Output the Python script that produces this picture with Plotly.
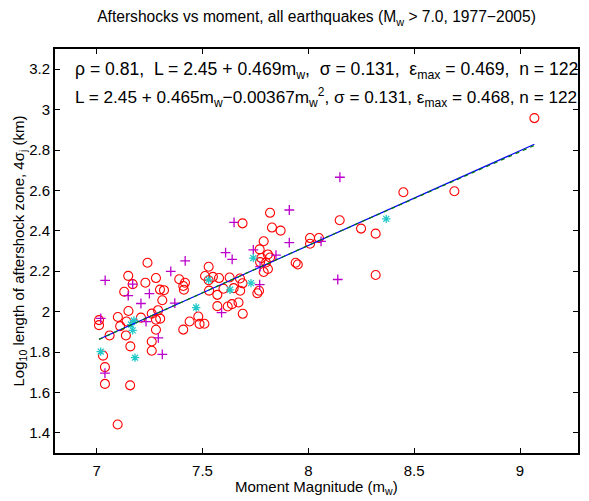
import plotly.graph_objects as go

# Red open circles
red_m = [9.068, 8.449, 8.690, 8.249, 8.318, 8.318, 8.148, 7.689, 7.819, 7.828,
         7.869, 7.789, 7.770, 7.809, 7.819, 7.778, 7.772, 7.800, 7.809, 7.789,
         8.008, 8.050, 8.008, 7.940, 7.950, 7.767, 7.759, 7.677, 7.689, 7.678,
         7.647, 7.670, 7.690, 7.639, 7.619, 7.570, 7.628, 7.578, 7.549, 7.512,
         7.529, 7.531, 7.599, 7.570, 7.390, 7.417, 7.409, 7.412, 7.280, 7.240,
         7.149, 7.230, 7.170, 7.130, 7.299, 7.318, 7.310, 7.150, 7.100, 7.011,
         7.011, 7.111, 7.141, 7.209, 7.260, 7.290, 7.280, 7.300, 7.061, 7.138,
         7.280, 7.159, 7.260, 7.260, 7.030, 7.039, 7.039, 7.158, 7.099, 7.409,
         7.439, 7.480, 7.486, 7.509, 7.529]
red_L = [2.958, 2.591, 2.596, 2.411, 2.386, 2.181, 2.452, 2.437, 2.489, 2.416,
         2.401, 2.348, 2.308, 2.283, 2.268, 2.265, 2.245, 2.243, 2.211, 2.196,
         2.364, 2.364, 2.336, 2.242, 2.233, 2.103, 2.091, 2.164, 2.140, 2.103,
         2.116, 2.045, 1.989, 2.037, 2.025, 2.027, 2.169, 2.166, 2.172, 2.176,
         2.222, 2.104, 2.113, 2.083, 2.160, 2.143, 2.127, 2.108, 2.166, 2.242,
         2.177, 2.143, 2.136, 2.098, 2.109, 2.106, 2.056, 2.003, 1.973, 1.958,
         1.933, 1.928, 1.951, 1.970, 1.990, 2.007, 1.960, 1.965, 1.882, 1.882,
         1.910, 1.828, 1.852, 1.806, 1.782, 1.725, 1.642, 1.635, 1.441, 1.911,
         1.951, 1.976, 1.939, 1.940, 2.155]

# Magenta plus markers
plus_m = [8.149, 7.910, 7.910, 8.060, 7.740, 7.847, 7.772, 8.139, 7.770, 7.649,
          7.609, 7.640, 7.418, 7.350, 7.040, 7.170, 7.149, 7.249, 7.209, 7.369,
          7.019, 7.233, 7.291, 7.310, 7.039, 7.590]
plus_L = [2.665, 2.503, 2.341, 2.348, 2.306, 2.280, 2.223, 2.159, 2.134, 2.442,
          2.292, 2.259, 2.251, 2.199, 2.155, 2.136, 2.079, 2.089, 2.040, 2.042,
          1.966, 1.950, 1.870, 1.788, 1.695, 1.995]

# Cyan asterisks
star_m = [8.368, 7.740, 7.729, 7.630, 7.529, 7.470, 7.176, 7.162, 7.170, 7.019, 7.181]
star_L = [2.459, 2.265, 2.141, 2.108, 2.157, 2.020, 1.956, 1.936, 1.907, 1.802, 1.772]

# Fit parameters (centered on m0)
fit_m0 = 8.2616
lin_a, lin_b = 2.45, 0.469
quad_a, quad_b, quad_c = 2.45, 0.465, -0.00367

x_ticks = [7, 7.5, 8, 8.5, 9]
x_tick_labels = ["7", "7.5", "8", "8.5", "9"]
y_ticks = [1.4, 1.6, 1.8, 2.0, 2.2, 2.4, 2.6, 2.8, 3.0, 3.2]
y_tick_labels = ["1.4", "1.6", "1.8", "2", "2.2", "2.4", "2.6", "2.8", "3", "3.2"]

all_m = red_m + plus_m + star_m
m_lo, m_hi = min(all_m), max(all_m)
n_pts = 60
fit_x = [m_lo + (m_hi - m_lo) * i / (n_pts - 1) for i in range(n_pts)]
lin_y = [lin_a + lin_b * (x - fit_m0) for x in fit_x]
quad_y = [quad_a + quad_b * (x - fit_m0) + quad_c * (x - fit_m0) ** 2 for x in fit_x]

FONT = "Liberation Sans, Arial, Helvetica, sans-serif"

fig = go.Figure()
fig.add_trace(go.Scatter(x=red_m, y=red_L, mode="markers",
                         marker=dict(symbol="circle-open", size=9, color="#ff0000",
                                     line=dict(width=1.1, color="#ff0000"))))
fig.add_trace(go.Scatter(x=plus_m, y=plus_L, mode="markers",
                         marker=dict(symbol="cross-thin-open", size=7, color="#bb00cc",
                                     line=dict(width=1.3, color="#bb00cc"))))
fig.add_trace(go.Scatter(x=star_m, y=star_L, mode="markers",
                         marker=dict(symbol="asterisk-open", size=7, color="#22c8c8",
                                     line=dict(width=1.3, color="#22c8c8"))))
fig.add_trace(go.Scatter(x=fit_x, y=lin_y, mode="lines",
                         line=dict(color="#0000ff", width=1.2)))
fig.add_trace(go.Scatter(x=fit_x, y=quad_y, mode="lines",
                         line=dict(color="#007a00", width=1.2, dash="4px,4px")))

axis_common = dict(showgrid=False, zeroline=False, showline=True, linecolor="black",
                   linewidth=2, mirror="allticks", ticks="inside", ticklen=5,
                   tickwidth=1, tickcolor="black", automargin=False,
                   tickfont=dict(family=FONT, size=15, color="black"))

fig.update_xaxes(range=[6.803, 9.274], tickvals=x_ticks, ticktext=x_tick_labels,
                 ticklabelstandoff=3, **axis_common)
fig.update_yaxes(range=[1.3, 3.3], tickvals=y_ticks, ticktext=y_tick_labels,
                 title=dict(text="Log<sub>10</sub> length of aftershock zone, 4σ<sub>j</sub> (km)",
                            standoff=1, font=dict(family=FONT, size=15, color="black")),
                 **axis_common)

nb = "\u00a0"
txt1 = f"ρ = 0.81,{nb} L = 2.45 + 0.469m<sub>w</sub>,{nb} σ = 0.131,{nb} ε<sub>max</sub> = 0.469,{nb} n = 122"
txt2 = "L = 2.45 + 0.465m<sub>w</sub>−0.00367m<sub>w</sub><sup>2</sup>, σ = 0.131, ε<sub>max</sub> = 0.468, n = 122"

fig.add_annotation(text=txt1, xref="paper", yref="paper", x=0.034, y=0.948,
                   xanchor="left", yanchor="middle", showarrow=False,
                   font=dict(family=FONT, size=17.6, color="black"))
fig.add_annotation(text=txt2, xref="paper", yref="paper", x=0.034, y=0.879,
                   xanchor="left", yanchor="middle", showarrow=False,
                   font=dict(family=FONT, size=17.2, color="black"))
fig.add_annotation(text="Moment Magnitude (m<sub>w</sub>)", xref="paper", yref="paper",
                   x=0.5, y=-0.086, xanchor="center", yanchor="middle", showarrow=False,
                   font=dict(family=FONT, size=15, color="black"))

# The page body adds an 8px offset; the figure is sized to fill the rest.
fig.update_layout(
    width=581, height=493,
    margin=dict(l=47, r=11, t=41, b=48),
    paper_bgcolor="white", plot_bgcolor="white",
    showlegend=False,
    title=dict(text="Aftershocks vs moment, all earthquakes (M<sub>w</sub> > 7.0, 1977−2005)",
               x=0.531, xanchor="center", y=0.982, yanchor="middle",
               font=dict(family=FONT, size=15.6, color="black")),
)

fig.write_html("out.html")
